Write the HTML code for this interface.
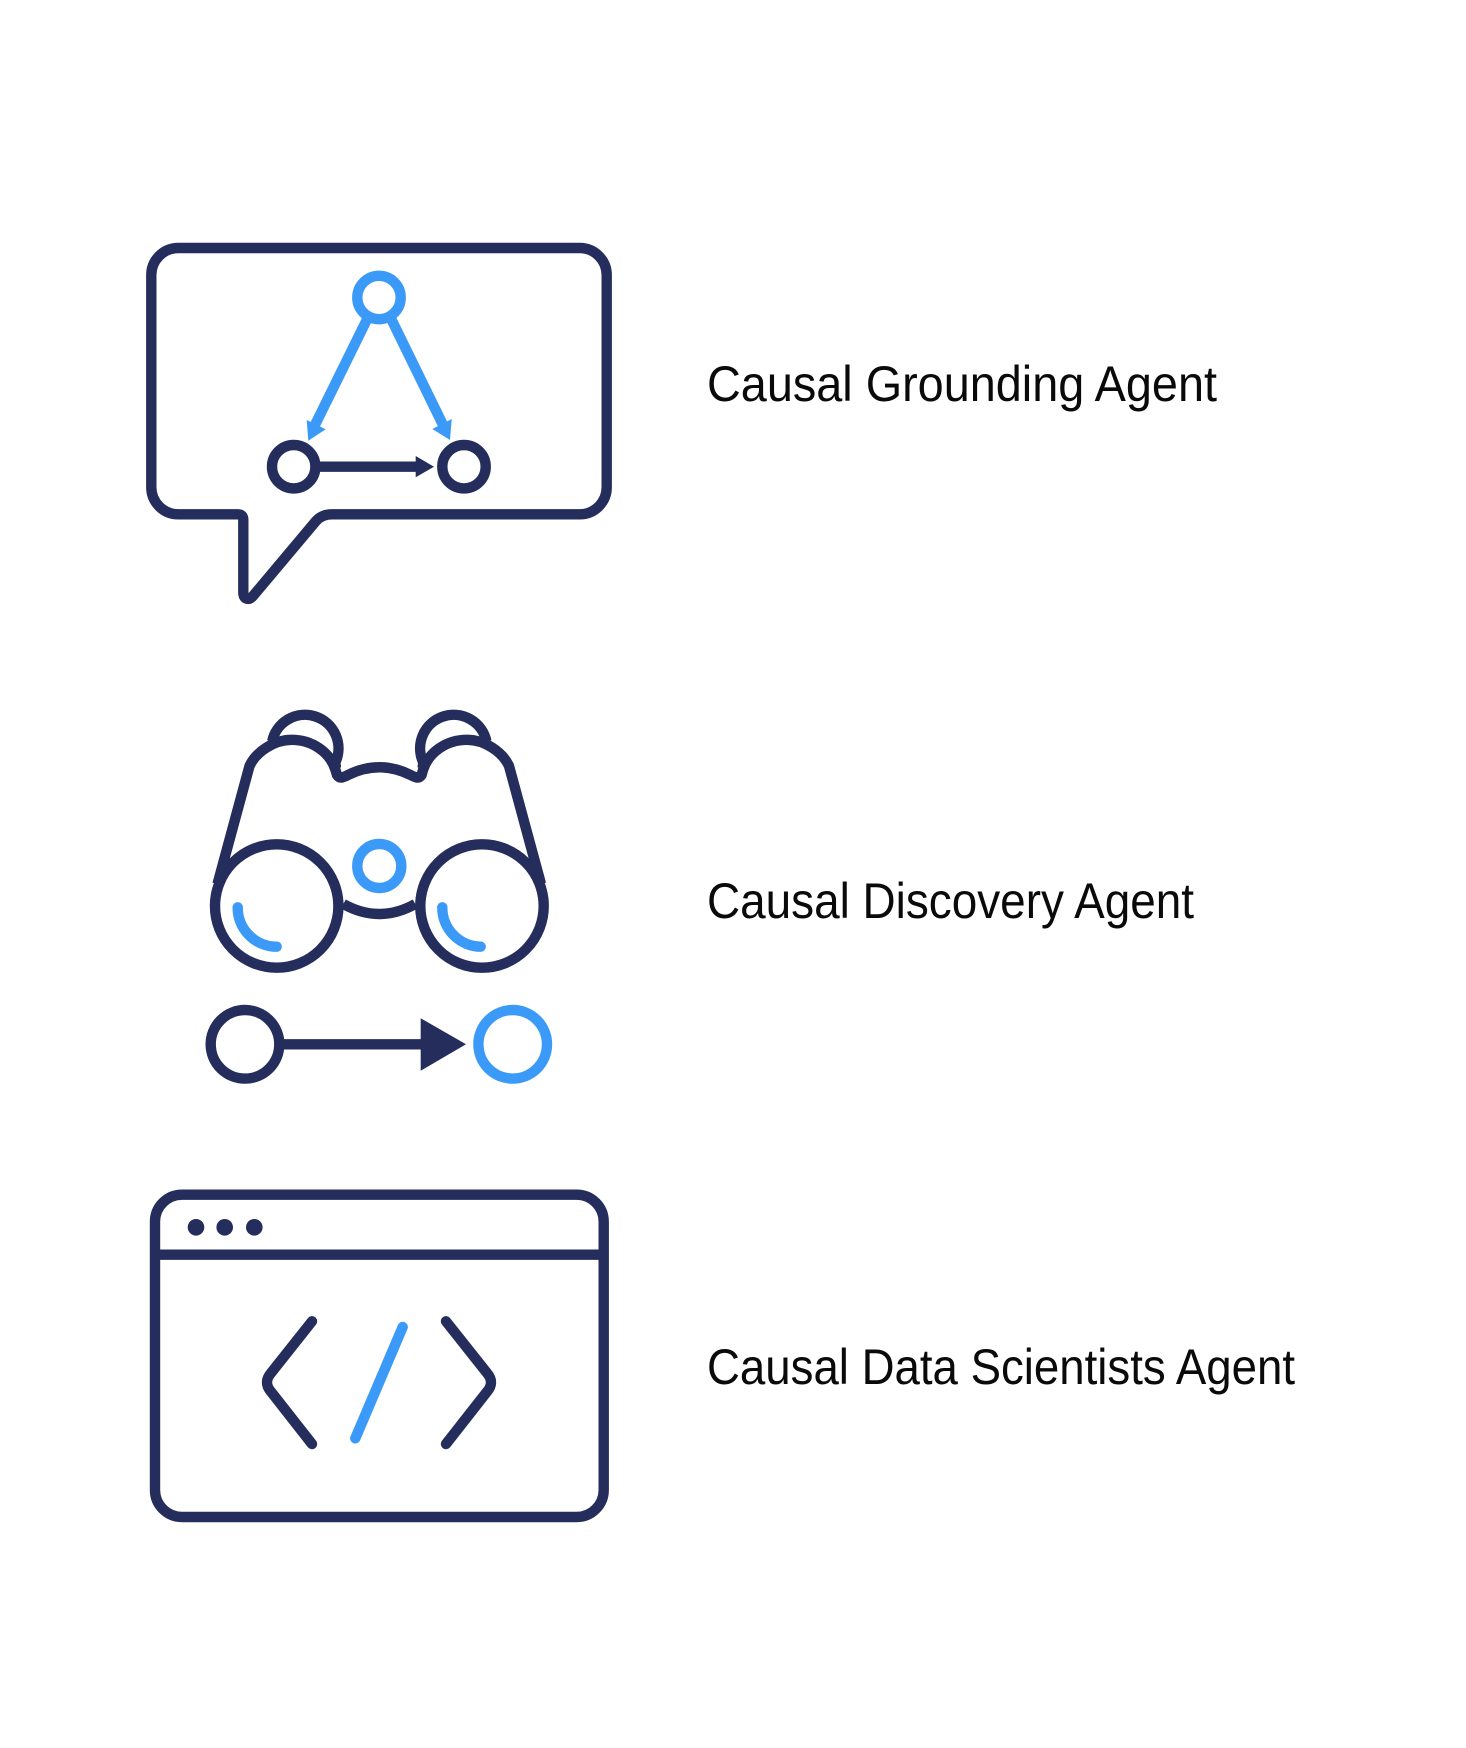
<!DOCTYPE html>
<html><head><meta charset="utf-8"><style>
html,body{margin:0;padding:0;background:#fff}
svg{display:block}
text{font-family:"Liberation Sans",sans-serif;font-size:50px;fill:#0a0a0a}
</style></head><body>
<svg width="1466" height="1748" viewBox="0 0 1466 1748" xmlns="http://www.w3.org/2000/svg">
<rect width="1466" height="1748" fill="#fff"/>
<g fill="none" stroke="#242d5c" stroke-width="10.4" stroke-linecap="round" stroke-linejoin="round">
<!-- bubble -->
<path d="M178.300 248H579.700A27 27 0 0 1 606.700 275V487.300A27 27 0 0 1 579.700 514.300H332Q322 514.300 316 521L253 596Q249.500 600 246 598.500Q243.300 597 243.300 592V520Q243.300 514.300 238 514.300H178.300A27 27 0 0 1 151.300 487.300V275A27 27 0 0 1 178.300 248Z"/>
<circle cx="293.700" cy="466.700" r="21.700"/>
<circle cx="464" cy="466.700" r="21.700"/>
<path d="M315 466.700H417" stroke-linecap="butt"/>
<!-- binoculars -->
<circle cx="276.700" cy="906" r="61.700"/>
<circle cx="482" cy="906" r="61.700"/>
<path d="M343.300 904Q379.300 924 415.300 904" stroke-linecap="butt"/>
<path d="M217.500 884L249.500 766C256 752 274 739.800 291.700 739.800C312 739.800 330 752 335.500 770L337 775Q339 778 342 777.500Q345.500 776.500 348 775Q379.300 759.500 410.600 775Q413 776.500 416.600 777.500Q419.600 778 421.600 775L423 770C428.600 752 446.600 739.800 467 739.800C484.600 739.800 502.600 752 509 766L541 884" stroke-linecap="butt"/>
<path d="M272.200 741.300A33.500 33.500 0 1 1 335.300 762.500L336 768" stroke-linecap="butt"/>
<path d="M486.400 741.300A33.500 33.500 0 1 0 423.300 762.500L422.600 768" stroke-linecap="butt"/>
<!-- bottom arrow -->
<circle cx="245" cy="1044.300" r="34.300"/>
<path d="M283 1044.300H425" stroke-linecap="butt"/>
<!-- browser -->
<rect x="155" y="1194.700" width="448.700" height="322.300" rx="27" ry="27"/>
<path d="M155 1254.700H603.700" stroke-linecap="butt"/>
<path d="M312 1321.300L271 1373Q263 1382.300 271 1391.700L312 1444"/>
<path d="M446 1321.300L487 1373Q495 1382.300 487 1391.700L446 1444"/>
</g>
<g fill="#242d5c">
<path d="M415.700 456L434 466.700L415.700 477.300Z"/>
<path d="M420.700 1018.300L466 1044.300L420.700 1070.700Z"/>
<circle cx="196" cy="1227.300" r="8.300"/>
<circle cx="224.700" cy="1227.300" r="8.300"/>
<circle cx="254.300" cy="1227.300" r="8.300"/>
</g>
<g fill="none" stroke="#3b9af8" stroke-width="10.400" stroke-linecap="round" stroke-linejoin="round">
<circle cx="379" cy="297.500" r="21.700"/>
<path d="M366.700 320L314 427" stroke-linecap="butt"/>
<path d="M391.700 320L444 427" stroke-linecap="butt"/>
<circle cx="379.300" cy="866" r="22"/>
<path d="M237.700 907.300A39 39 0 0 0 276.700 946.700"/>
<path d="M442.300 907.300A39 39 0 0 0 480.700 946.700"/>
<circle cx="512.700" cy="1044.300" r="34.300"/>
<path d="M402.700 1327L355.300 1438.300"/>
</g>
<g fill="#3b9af8">
<path d="M308.300 440.700L306.700 420L325.700 429.300Z"/>
<path d="M450 440L451.700 419L432.300 429Z"/>
</g>
<text x="707" y="401" textLength="510" lengthAdjust="spacingAndGlyphs">Causal Grounding Agent</text>
<text x="707" y="918" textLength="487" lengthAdjust="spacingAndGlyphs">Causal Discovery Agent</text>
<text x="707" y="1384" textLength="588" lengthAdjust="spacingAndGlyphs">Causal Data Scientists Agent</text>
</svg>
</body></html>
